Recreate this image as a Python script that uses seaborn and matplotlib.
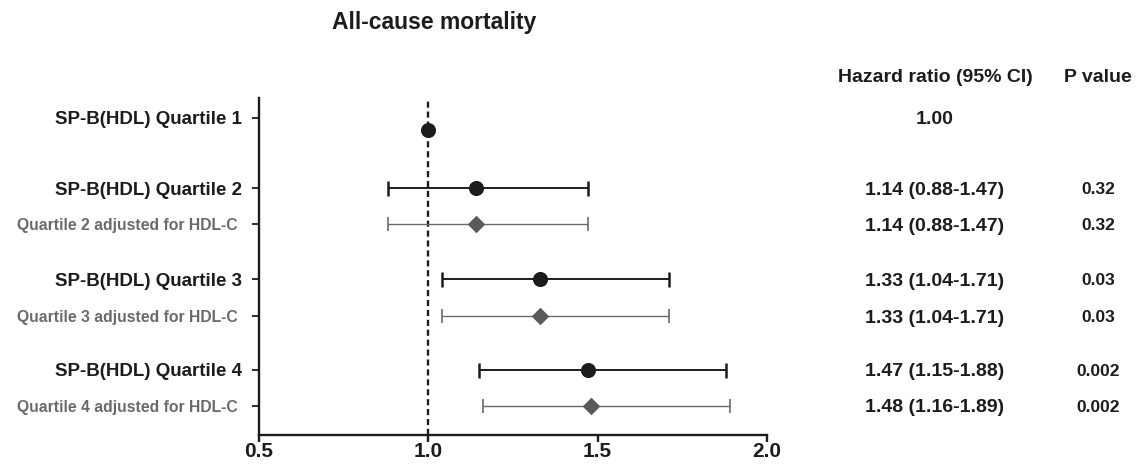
import numpy as np
import pandas as pd
import matplotlib
matplotlib.use("Agg")
import matplotlib.pyplot as plt
import matplotlib.transforms as mtransforms
import seaborn as sns

# ---------------- data ----------------
labels = ["SP-B(HDL) Quartile 1", "SP-B(HDL) Quartile 2", "Quartile 2 adjusted for HDL-C ",
          "SP-B(HDL) Quartile 3", "Quartile 3 adjusted for HDL-C ",
          "SP-B(HDL) Quartile 4", "Quartile 4 adjusted for HDL-C "]
kind = ["primary", "primary", "adjusted", "primary", "adjusted", "primary", "adjusted"]
hr = [1.00, 1.14, 1.14, 1.33, 1.33, 1.47, 1.48]
ci_low = [np.nan, 0.88, 0.88, 1.04, 1.04, 1.15, 1.16]
ci_high = [np.nan, 1.47, 1.47, 1.71, 1.71, 1.88, 1.89]
hr_text = ["1.00", "1.14 (0.88-1.47)", "1.14 (0.88-1.47)", "1.33 (1.04-1.71)",
           "1.33 (1.04-1.71)", "1.47 (1.15-1.88)", "1.48 (1.16-1.89)"]
p_text = ["", "0.32", "0.32", "0.03", "0.03", "0.002", "0.002"]
x_ticks = [0.5, 1.0, 1.5, 2.0]
x_tick_labels = ["0.5", "1.0", "1.5", "2.0"]

# layout (row positions, top to bottom)
row_pos = np.array([0.0, 1.93, 2.92, 4.44, 5.46, 6.94, 7.93])
point_pos = row_pos.copy()
point_pos[0] += 0.33

df = pd.DataFrame({"label": labels, "kind": kind, "hr": hr, "lo": ci_low,
                   "hi": ci_high, "row": row_pos, "pt": point_pos})

# ---------------- style ----------------
sns.set_theme(style="white")
plt.rcParams["font.family"] = ["Liberation Sans", "DejaVu Sans"]
plt.rcParams["font.weight"] = "bold"

DARK = "#1c1c1c"
GREY = "#5a5a5a"
GREY_TXT = "#6a6a6a"

fig = plt.figure(figsize=(11.38, 4.66), dpi=100)
ax = fig.add_axes([259 / 1138, 1 - 435 / 466, 508 / 1138, 337 / 466])

# reference line
ax.axvline(1.0, color=DARK, lw=1.7, dashes=(2.6, 1.6), zorder=1)

# error bars
prim = df[df.kind == "primary"].dropna()
adj = df[df.kind == "adjusted"]
ax.errorbar(prim.hr, prim.pt, xerr=[prim.hr - prim.lo, prim.hi - prim.hr],
            fmt="none", ecolor=DARK, elinewidth=1.4, capsize=5.4, capthick=1.8, zorder=2)
ax.errorbar(adj.hr, adj.pt, xerr=[adj.hr - adj.lo, adj.hi - adj.hr],
            fmt="none", ecolor=GREY_TXT, elinewidth=1.0, capsize=5.0, capthick=1.2, zorder=2)

# markers
sns.scatterplot(data=df[df.kind == "primary"], x="hr", y="pt", marker="o", s=118,
                color=DARK, edgecolor=DARK, linewidth=0, ax=ax, zorder=3, legend=False)
sns.scatterplot(data=adj, x="hr", y="pt", marker="D", s=80,
                color=GREY, edgecolor=GREY, linewidth=0, ax=ax, zorder=3, legend=False)

# axes
ax.set_xlim(0.5, 2.0)
ax.set_ylim(8.73, -0.55)
ax.set_xlabel("")
ax.set_ylabel("")
ax.set_xticks(x_ticks)
ax.set_xticklabels(x_tick_labels, fontsize=15, fontweight="bold", color=DARK)
ax.set_yticks(row_pos)
ax.set_yticklabels(labels)
for t, k in zip(ax.get_yticklabels(), kind):
    if k == "primary":
        t.set_fontsize(13.5)
        t.set_color(DARK)
    else:
        t.set_fontsize(11.3)
        t.set_color(GREY_TXT)
    t.set_fontweight("bold")

for s in ["top", "right"]:
    ax.spines[s].set_visible(False)
for s in ["left", "bottom"]:
    ax.spines[s].set_linewidth(1.7)
    ax.spines[s].set_color(DARK)
ax.tick_params(axis="x", direction="out", length=5, width=1.7, color=DARK, pad=0.3, bottom=True)
ax.tick_params(axis="y", direction="out", length=5, width=1.3, color=DARK, pad=7, left=True)

# title and table
fig.text(434 / 1138, 1 - 23 / 466, "All-cause mortality", ha="center", va="center",
         fontsize=16.5, fontweight="bold", color=DARK)
fig.text(935 / 1138, 1 - 77 / 466, "Hazard ratio (95% CI)", ha="center", va="center",
         fontsize=14, fontweight="bold", color=DARK)
fig.text(1098 / 1138, 1 - 77 / 466, "P value", ha="center", va="center",
         fontsize=14, fontweight="bold", color=DARK)

trans = mtransforms.blended_transform_factory(fig.transFigure, ax.transData)
for r, h, p in zip(row_pos, hr_text, p_text):
    ax.text(935 / 1138, r, h, transform=trans, ha="center", va="center_baseline",
            fontsize=14, fontweight="bold", color=DARK, clip_on=False)
    if p:
        ax.text(1098 / 1138, r, p, transform=trans, ha="center", va="center_baseline",
                fontsize=12.5, fontweight="bold", color=DARK, clip_on=False)

fig.savefig("out.png", dpi=100, facecolor="white")
